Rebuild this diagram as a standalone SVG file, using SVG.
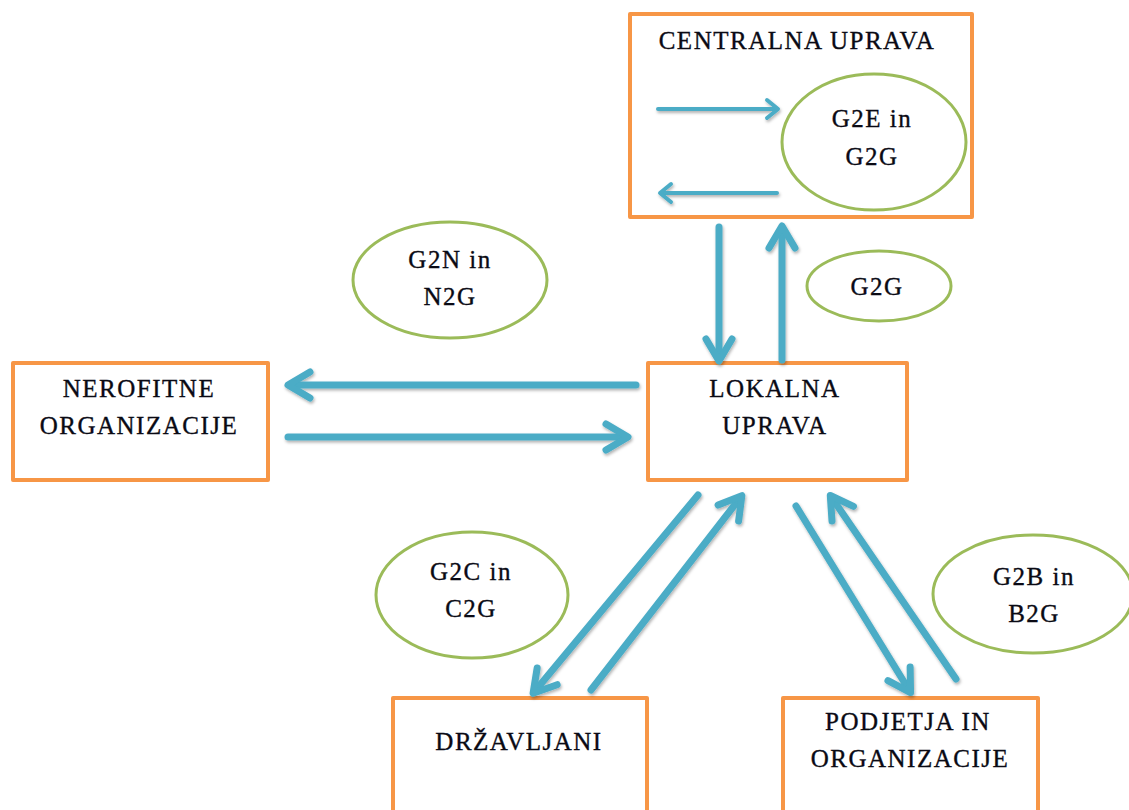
<svg xmlns="http://www.w3.org/2000/svg" width="1129" height="810" viewBox="0 0 1129 810">
<style>
.box{fill:#fff;stroke:#F79646;stroke-width:4;stroke-linejoin:round}
.ell{fill:#fff;stroke:#9BBB59;stroke-width:3}
.t{font-family:'Liberation Serif','DejaVu Serif','Times New Roman',serif;font-size:25px;fill:#0a0a14;stroke:#0a0a14;stroke-width:0.35px;text-anchor:middle;letter-spacing:1.5px}
.a{stroke:#4BACC6;stroke-width:7;fill:none;stroke-linecap:round;marker-end:url(#ah)}
.s{stroke:#4BACC6;stroke-width:4;fill:none;stroke-linecap:round;marker-end:url(#ahs)}
</style>
<defs>
<filter id="sh" x="-10%" y="-10%" width="120%" height="120%">
<feDropShadow dx="1" dy="2" stdDeviation="1.5" flood-color="#000" flood-opacity="0.3"/>
</filter>
<marker id="ah" markerUnits="userSpaceOnUse" viewBox="-30 -20 40 40" markerWidth="40" markerHeight="40" refX="-3" refY="0" orient="auto" overflow="visible">
<path d="M-22,-13 L0,0 L-22,13" fill="none" stroke="#4BACC6" stroke-width="7" stroke-linecap="round" stroke-linejoin="round"/>
</marker>
<marker id="ahs" markerUnits="userSpaceOnUse" viewBox="-20 -15 30 30" markerWidth="30" markerHeight="30" refX="-2" refY="0" orient="auto" overflow="visible">
<path d="M-11,-9 L0,0 L-11,9" fill="none" stroke="#4BACC6" stroke-width="4" stroke-linecap="round" stroke-linejoin="round"/>
</marker>
</defs>
<rect width="1129" height="810" fill="#fff"/>

<g id="centralna">
<rect class="box" x="630" y="14" width="342" height="203"/>
<text class="t" x="797" y="49" font-family="Liberation Serif">CENTRALNA UPRAVA</text>
</g>
<g id="g2e">
<ellipse class="ell" cx="874" cy="142" rx="92" ry="68"/>
<text class="t" x="872" y="127">G2E in</text>
<text class="t" x="872" y="165">G2G</text>
</g>
<g id="nerofitne">
<rect class="box" x="13" y="363" width="255" height="117"/>
<text class="t" x="139" y="397">NEROFITNE</text>
<text class="t" x="139" y="434">ORGANIZACIJE</text>
</g>
<g id="lokalna">
<rect class="box" x="648" y="363" width="259" height="117"/>
<text class="t" x="775" y="397">LOKALNA</text>
<text class="t" x="775" y="434">UPRAVA</text>
</g>
<g id="g2n">
<ellipse class="ell" cx="450" cy="280" rx="97" ry="58"/>
<text class="t" x="450" y="268">G2N in</text>
<text class="t" x="450" y="305">N2G</text>
</g>
<g id="g2g">
<ellipse class="ell" cx="879" cy="286" rx="72" ry="35"/>
<text class="t" x="877" y="295">G2G</text>
</g>
<g id="g2c">
<ellipse class="ell" cx="472" cy="595" rx="96" ry="63"/>
<text class="t" x="471" y="580">G2C in</text>
<text class="t" x="471" y="617">C2G</text>
</g>
<g id="g2b">
<ellipse class="ell" cx="1033" cy="594" rx="100" ry="59"/>
<text class="t" x="1034" y="585">G2B in</text>
<text class="t" x="1034" y="622">B2G</text>
</g>
<g id="drzavljani">
<rect class="box" x="393" y="698" width="254" height="140"/>
<text class="t" x="519" y="750">DRŽAVLJANI</text>
</g>
<g id="podjetja">
<rect class="box" x="783" y="698" width="255" height="140"/>
<text class="t" x="908" y="730">PODJETJA IN</text>
<text class="t" x="910" y="767">ORGANIZACIJE</text>
</g>

<g id="connectors" filter="url(#sh)">
<line class="s" x1="658" y1="109" x2="776" y2="109"/>
<line class="s" x1="777" y1="193" x2="662" y2="193"/>
<line class="a" x1="719" y1="227" x2="719" y2="358"/>
<line class="a" x1="782" y1="360" x2="782" y2="229"/>
<line class="a" x1="636" y1="385" x2="291" y2="385"/>
<line class="a" x1="288" y1="437" x2="625" y2="437"/>
<line class="a" x1="698" y1="495" x2="535" y2="691"/>
<line class="a" x1="591" y1="690" x2="740" y2="498"/>
<line class="a" x1="796" y1="506" x2="909" y2="690"/>
<line class="a" x1="956" y1="679" x2="832" y2="498"/>
</g>
</svg>
